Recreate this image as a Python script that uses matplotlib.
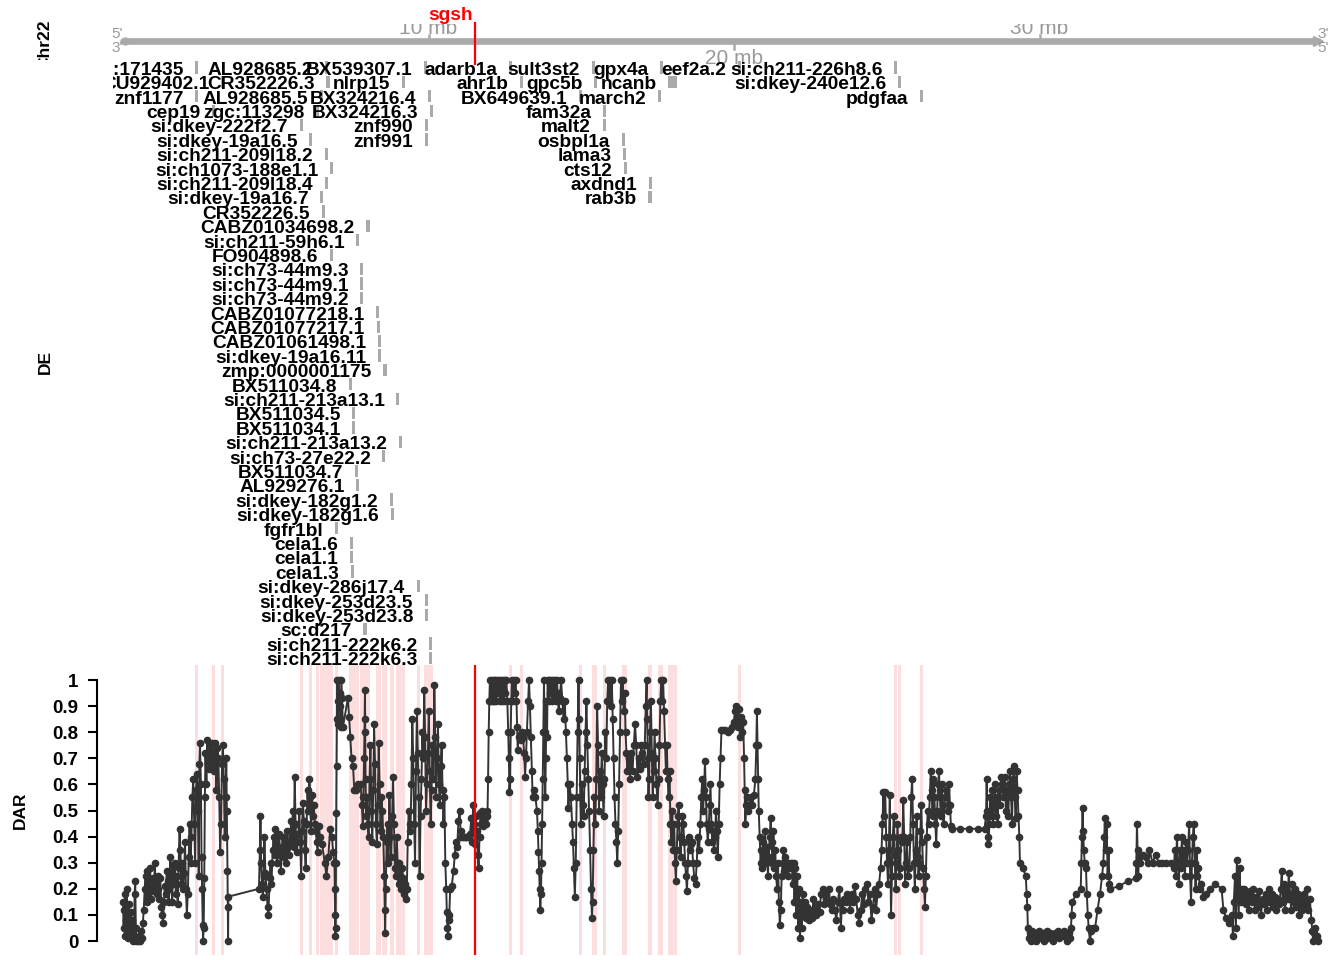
# DE genes and DAR scores along chr22 around sgsh

import numpy as np
import matplotlib
matplotlib.use('Agg')
import matplotlib.pyplot as plt
from matplotlib.transforms import Bbox

plt.rcParams['font.family'] = ['Liberation Sans', 'DejaVu Sans']

# Chromosome
chrom_name = 'Chr22'
chrom_len = 39.13
axis_ticks = [10, 20, 30]
axis_tick_labels = ['10 mb', '20 mb', '30 mb']

# Target gene
target_name = 'sgsh'
target_pos = 11.52

# DE genes (label row, start / end in Mb)
gene_names = ['zgc:171435', 'AL928685.2', 'BX539307.1', 'adarb1a', 'sult3st2', 'gpx4a', 'eef2a.2', 'si:ch211-226h8.6',
              'CU929402.1', 'CR352226.3', 'nlrp15', 'ahr1b', 'gpc5b', 'ncanb', 'si:dkey-240e12.6',
              'znf1177', 'AL928685.5', 'BX324216.4', 'BX649639.1', 'march2', 'pdgfaa',
              'cep19', 'zgc:113298', 'BX324216.3', 'fam32a',
              'si:dkey-222f2.7', 'znf990', 'malt2',
              'si:dkey-19a16.5', 'znf991', 'osbpl1a',
              'si:ch211-209l18.2', 'lama3',
              'si:ch1073-188e1.1', 'cts12',
              'si:ch211-209l18.4', 'axdnd1',
              'si:dkey-19a16.7', 'rab3b',
              'CR352226.5', 'CABZ01034698.2', 'si:ch211-59h6.1', 'FO904898.6', 'si:ch73-44m9.3',
              'si:ch73-44m9.1', 'si:ch73-44m9.2', 'CABZ01077218.1', 'CABZ01077217.1', 'CABZ01061498.1',
              'si:dkey-19a16.11', 'zmp:0000001175', 'BX511034.8', 'si:ch211-213a13.1', 'BX511034.5',
              'BX511034.1', 'si:ch211-213a13.2', 'si:ch73-27e22.2', 'BX511034.7', 'AL929276.1',
              'si:dkey-182g1.2', 'si:dkey-182g1.6', 'fgfr1bl', 'cela1.6', 'cela1.1', 'cela1.3',
              'si:dkey-286j17.4', 'si:dkey-253d23.5', 'si:dkey-253d23.8', 'sc:d217',
              'si:ch211-222k6.2', 'si:ch211-222k6.3']
gene_rows = [0, 0, 0, 0, 0, 0, 0, 0,
             1, 1, 1, 1, 1, 1, 1,
             2, 2, 2, 2, 2, 2,
             3, 3, 3, 3,
             4, 4, 4,
             5, 5, 5,
             6, 6,
             7, 7,
             8, 8,
             9, 9,
             10, 11, 12, 13, 14,
             15, 16, 17, 18, 19,
             20, 21, 22, 23, 24,
             25, 26, 27, 28, 29,
             30, 31, 32, 33, 34, 35,
             36, 37, 38, 39,
             40, 41]
gene_start = [2.37, 6.61, 9.85, 12.64, 15.34, 17.59, 20.13, 25.24,
              3.21, 6.66, 9.12, 13.00, 15.42, 17.84, 25.37,
              2.37, 6.45, 9.98, 14.92, 17.50, 26.09,
              2.91, 6.32, 10.05, 15.70,
              5.79, 9.87, 15.70,
              6.09, 9.87, 16.32,
              6.61, 16.37,
              6.77, 16.40,
              6.61, 17.22,
              6.46, 17.20,
              6.50, 7.95, 7.64, 6.78, 7.76,
              7.76, 7.76, 8.28, 8.30, 8.36,
              8.35, 8.51, 7.40, 8.95, 7.51,
              7.51, 9.03, 8.49, 7.58, 7.63,
              8.74, 8.77, 6.94, 7.43, 7.43, 7.45,
              9.61, 9.87, 9.89, 7.86,
              10.02, 10.02]
gene_end = [2.42, 6.66, 9.90, 12.69, 15.39, 17.64, 20.18, 25.29,
            3.26, 6.71, 9.17, 13.05, 15.47, 18.13, 25.42,
            2.42, 6.50, 10.03, 14.97, 17.55, 26.14,
            2.96, 6.37, 10.10, 15.75,
            5.84, 9.92, 15.75,
            6.14, 9.92, 16.37,
            6.68, 16.42,
            6.82, 16.45,
            6.66, 17.27,
            6.51, 17.25,
            6.55, 8.09, 7.69, 6.83, 7.81,
            7.81, 7.81, 8.33, 8.35, 8.41,
            8.40, 8.64, 7.45, 9.00, 7.56,
            7.56, 9.08, 8.54, 7.63, 7.68,
            8.79, 8.82, 6.99, 7.48, 7.48, 7.50,
            9.72, 9.92, 9.94, 7.99,
            10.07, 10.07]

# DAR scores (position in Mb, score)
dar_pos = [0.00, 0.02, 0.04, 0.06, 0.08, 0.10, 0.12, 0.14, 0.16, 0.18,
           0.20, 0.22, 0.25, 0.28, 0.30, 0.33, 0.36, 0.38, 0.40, 0.42,
           0.44, 0.47, 0.50, 0.53, 0.56, 0.59, 0.62, 0.65, 0.68, 0.71,
           0.74, 0.77, 0.80, 0.83, 0.86, 0.89, 0.92, 0.95, 0.98, 1.01,
           1.04, 1.07, 1.10, 1.13, 1.16, 1.19, 1.22, 1.25, 1.28, 1.31,
           1.34, 1.37, 1.40, 1.43, 1.46, 1.49, 1.52, 1.55, 1.58, 1.61,
           1.64, 1.67, 1.70, 1.73, 1.76, 1.79, 1.82, 1.85, 1.88, 1.91,
           1.94, 1.97, 2.00, 2.03, 2.06, 2.09, 2.12, 2.15, 2.18, 2.21,
           2.24, 2.27, 2.30, 2.33, 2.36, 2.39, 2.42, 2.45, 2.48, 2.50,
           2.52, 2.55, 2.57, 2.59, 2.61, 2.62, 2.64, 2.66, 2.68, 2.70,
           2.73, 2.76, 2.79, 2.82, 2.85, 2.88, 2.91, 2.94, 2.97, 3.00,
           3.03, 3.06, 3.09, 3.12, 3.15, 3.18, 3.21, 3.24, 3.27, 3.30,
           3.33, 3.36, 3.38, 3.40, 3.42, 3.43, 3.44, 3.45, 4.45, 4.48,
           4.50, 4.52, 4.55, 4.58, 4.60, 4.63, 4.66, 4.70, 4.73, 4.76,
           4.80, 4.83, 4.86, 4.90, 4.93, 4.96, 4.99, 5.02, 5.05, 5.08,
           5.11, 5.14, 5.17, 5.20, 5.23, 5.26, 5.29, 5.32, 5.35, 5.38,
           5.41, 5.44, 5.47, 5.50, 5.53, 5.56, 5.59, 5.62, 5.65, 5.68,
           5.71, 5.74, 5.77, 5.80, 5.83, 5.86, 5.89, 5.92, 5.95, 5.98,
           6.01, 6.04, 6.07, 6.10, 6.13, 6.16, 6.19, 6.22, 6.25, 6.28,
           6.31, 6.34, 6.37, 6.40, 6.45, 6.52, 6.60, 6.66, 6.72, 6.78,
           6.84, 6.88, 6.92, 6.93, 6.94, 6.95, 6.96, 6.97, 6.98, 6.99,
           7.00, 7.01, 7.03, 7.05, 7.07, 7.09, 7.11, 7.13, 7.15, 7.17,
           7.20, 7.36, 7.40, 7.44, 7.48, 7.53, 7.57, 7.62, 7.70, 7.78,
           7.82, 7.85, 7.87, 7.89, 7.91, 7.92, 7.93, 7.94, 7.96, 7.98,
           8.01, 8.04, 8.07, 8.10, 8.13, 8.16, 8.19, 8.22, 8.25, 8.28,
           8.31, 8.34, 8.37, 8.40, 8.43, 8.46, 8.49, 8.52, 8.55, 8.57,
           8.58, 8.60, 8.63, 8.66, 8.69, 8.72, 8.75, 8.78, 8.81, 8.84,
           8.87, 8.90, 8.93, 8.96, 8.99, 9.02, 9.05, 9.08, 9.11, 9.14,
           9.17, 9.20, 9.23, 9.26, 9.29, 9.32, 9.35, 9.38, 9.41, 9.44,
           9.47, 9.50, 9.53, 9.56, 9.59, 9.62, 9.65, 9.68, 9.71, 9.74,
           9.77, 9.80, 9.83, 9.86, 9.89, 9.92, 9.95, 9.98, 10.01, 10.04,
           10.07, 10.10, 10.13, 10.16, 10.19, 10.22, 10.25, 10.28, 10.31, 10.34,
           10.37, 10.40, 10.43, 10.46, 10.49, 10.52, 10.55, 10.58, 10.60, 10.62,
           10.64, 10.66, 10.68, 10.71, 10.76, 10.82, 10.86, 10.90, 10.94, 10.98,
           11.02, 11.05, 11.08, 11.12, 11.18, 11.24, 11.30, 11.36, 11.40, 11.43,
           11.46, 11.49, 11.52, 11.55, 11.58, 11.61, 11.64, 11.67, 11.70, 11.73,
           11.76, 11.79, 11.82, 11.85, 11.88, 11.91, 11.93, 11.95, 11.97, 11.99,
           12.01, 12.04, 12.07, 12.10, 12.13, 12.16, 12.19, 12.22, 12.25, 12.28,
           12.31, 12.34, 12.37, 12.40, 12.43, 12.46, 12.49, 12.52, 12.55, 12.58,
           12.61, 12.63, 12.65, 12.67, 12.69, 12.71, 12.73, 12.76, 12.79, 12.82,
           12.85, 12.88, 12.90, 12.92, 12.95, 12.99, 13.03, 13.07, 13.10, 13.13,
           13.16, 13.19, 13.22, 13.26, 13.29, 13.32, 13.35, 13.38, 13.41, 13.45,
           13.50, 13.55, 13.58, 13.60, 13.62, 13.64, 13.66, 13.68, 13.70, 13.72,
           13.74, 13.76, 13.78, 13.80, 13.82, 13.84, 13.86, 13.88, 13.90, 13.93,
           13.96, 13.99, 14.02, 14.05, 14.08, 14.11, 14.14, 14.17, 14.20, 14.23,
           14.26, 14.30, 14.34, 14.38, 14.42, 14.46, 14.50, 14.53, 14.56, 14.58,
           14.62, 14.66, 14.70, 14.73, 14.76, 14.79, 14.82, 14.85, 14.88, 14.91,
           14.93, 14.95, 14.97, 14.99, 15.02, 15.05, 15.08, 15.11, 15.14, 15.17,
           15.20, 15.23, 15.26, 15.29, 15.32, 15.35, 15.37, 15.40, 15.43, 15.46,
           15.49, 15.52, 15.55, 15.58, 15.61, 15.64, 15.67, 15.70, 15.73, 15.76,
           15.79, 15.82, 15.85, 15.88, 15.91, 15.94, 15.97, 16.00, 16.03, 16.06,
           16.09, 16.12, 16.15, 16.18, 16.21, 16.24, 16.27, 16.30, 16.33, 16.36,
           16.39, 16.42, 16.45, 16.48, 16.51, 16.55, 16.60, 16.64, 16.68, 16.72,
           16.76, 16.80, 16.84, 16.88, 16.92, 16.96, 17.00, 17.04, 17.08, 17.11,
           17.14, 17.16, 17.18, 17.20, 17.22, 17.25, 17.28, 17.31, 17.34, 17.37,
           17.40, 17.43, 17.46, 17.50, 17.53, 17.56, 17.59, 17.62, 17.65, 17.68,
           17.71, 17.74, 17.77, 17.80, 17.83, 17.86, 17.89, 17.92, 17.95, 17.98,
           18.01, 18.04, 18.07, 18.10, 18.13, 18.16, 18.19, 18.22, 18.25, 18.28,
           18.31, 18.34, 18.37, 18.40, 18.43, 18.46, 18.49, 18.52, 18.55, 18.58,
           18.62, 18.66, 18.70, 18.74, 18.78, 18.82, 18.86, 18.90, 18.93, 18.96,
           18.99, 19.02, 19.05, 19.08, 19.11, 19.14, 19.17, 19.20, 19.23, 19.26,
           19.29, 19.32, 19.35, 19.38, 19.41, 19.44, 19.47, 19.50, 19.53, 19.56,
           19.59, 19.65, 19.72, 19.80, 19.88, 19.95, 20.00, 20.03, 20.06, 20.09,
           20.12, 20.15, 20.18, 20.21, 20.24, 20.27, 20.30, 20.33, 20.35, 20.37,
           20.40, 20.43, 20.46, 20.50, 20.55, 20.60, 20.65, 20.70, 20.73, 20.75,
           20.77, 20.79, 20.81, 20.84, 20.87, 20.90, 20.93, 20.96, 20.99, 21.02,
           21.05, 21.08, 21.11, 21.14, 21.17, 21.20, 21.23, 21.26, 21.29, 21.32,
           21.35, 21.38, 21.41, 21.44, 21.47, 21.50, 21.53, 21.56, 21.59, 21.62,
           21.65, 21.68, 21.71, 21.74, 21.77, 21.80, 21.83, 21.86, 21.89, 21.92,
           21.95, 21.98, 22.01, 22.04, 22.07, 22.10, 22.13, 22.16, 22.19, 22.22,
           22.25, 22.28, 22.31, 22.35, 22.40, 22.45, 22.50, 22.55, 22.60, 22.65,
           22.70, 22.75, 22.80, 22.85, 22.90, 22.95, 23.00, 23.05, 23.10, 23.15,
           23.20, 23.25, 23.30, 23.35, 23.40, 23.45, 23.50, 23.53, 23.56, 23.60,
           23.65, 23.70, 23.75, 23.80, 23.85, 23.90, 23.95, 24.00, 24.05, 24.10,
           24.15, 24.20, 24.25, 24.30, 24.35, 24.40, 24.45, 24.50, 24.55, 24.60,
           24.65, 24.70, 24.75, 24.80, 24.83, 24.86, 24.89, 24.92, 24.95, 24.98,
           25.01, 25.04, 25.07, 25.10, 25.12, 25.14, 25.17, 25.20, 25.23, 25.26,
           25.29, 25.32, 25.35, 25.38, 25.41, 25.44, 25.47, 25.51, 25.54, 25.57,
           25.60, 25.63, 25.66, 25.70, 25.74, 25.77, 25.80, 25.83, 25.86, 25.89,
           25.92, 25.95, 25.98, 26.01, 26.04, 26.07, 26.10, 26.13, 26.16, 26.19,
           26.22, 26.25, 26.28, 26.31, 26.34, 26.37, 26.41, 26.44, 26.47, 26.50,
           26.53, 26.56, 26.59, 26.62, 26.65, 26.68, 26.71, 26.74, 26.77, 26.80,
           26.83, 26.86, 26.90, 26.95, 27.00, 27.04, 27.07, 27.10, 27.15, 27.40,
           27.70, 28.00, 28.20, 28.25, 28.27, 28.29, 28.31, 28.33, 28.36, 28.39,
           28.42, 28.45, 28.48, 28.51, 28.54, 28.57, 28.60, 28.63, 28.66, 28.70,
           28.74, 28.78, 28.82, 28.86, 28.90, 28.94, 28.98, 29.01, 29.04, 29.07,
           29.10, 29.13, 29.16, 29.19, 29.22, 29.25, 29.28, 29.31, 29.34, 29.36,
           29.45, 29.55, 29.58, 29.60, 29.62, 29.64, 29.68, 29.72, 29.76, 29.80,
           29.85, 29.90, 29.95, 30.00, 30.05, 30.10, 30.15, 30.20, 30.25, 30.30,
           30.35, 30.40, 30.45, 30.50, 30.55, 30.60, 30.65, 30.70, 30.75, 30.80,
           30.85, 30.90, 30.95, 31.00, 31.03, 31.05, 31.07, 31.20, 31.35, 31.37,
           31.39, 31.41, 31.43, 31.45, 31.48, 31.52, 31.55, 31.58, 31.61, 31.65,
           31.70, 31.76, 31.82, 31.90, 31.98, 32.05, 32.09, 32.12, 32.14, 32.17,
           32.20, 32.23, 32.26, 32.29, 32.31, 32.60, 32.90, 33.15, 33.17, 33.19,
           33.21, 33.23, 33.26, 33.30, 33.40, 33.50, 33.55, 33.60, 33.70, 33.80,
           33.90, 34.00, 34.15, 34.30, 34.40, 34.43, 34.46, 34.50, 34.53, 34.56,
           34.60, 34.63, 34.66, 34.70, 34.73, 34.76, 34.80, 34.83, 34.86, 34.90,
           34.93, 34.96, 34.99, 35.02, 35.05, 35.08, 35.11, 35.14, 35.17, 35.20,
           35.25, 35.30, 35.36, 35.45, 35.58, 35.75, 35.96, 36.02, 36.10, 36.20,
           36.30, 36.33, 36.36, 36.40, 36.43, 36.46, 36.49, 36.52, 36.55, 36.58,
           36.62, 36.66, 36.70, 36.75, 36.80, 36.85, 36.90, 36.95, 37.00, 37.05,
           37.10, 37.15, 37.20, 37.25, 37.30, 37.35, 37.40, 37.45, 37.50, 37.55,
           37.60, 37.65, 37.70, 37.75, 37.80, 37.85, 37.90, 37.93, 37.96, 38.00,
           38.04, 38.08, 38.12, 38.16, 38.20, 38.24, 38.28, 38.32, 38.36, 38.40,
           38.45, 38.50, 38.55, 38.60, 38.65, 38.70, 38.75, 38.80, 38.85, 38.90,
           38.93, 38.96, 38.99, 39.02, 39.05, 39.08, 39.10]
dar_val = [.15, .05, .12, .02, .18, .08, .20, .04, .10, .01,
           .14, .06, .11, .02, .08, .00, .01, .18, .23, .05,
           .00, .01, .00, .02, .00, .04, .01, .07, .12, .20,
           .25, .15, .27, .18, .22, .28, .16, .20, .24, .19,
           .30, .22, .18, .25, .20, .16, .24, .13, .10, .07,
           .15, .21, .18, .27, .23, .15, .20, .32, .25, .15,
           .29, .22, .30, .18, .25, .14, .28, .43, .35, .22,
           .30, .20, .26, .38, .20, .10, .18, .32, .45, .30,
           .40, .55, .62, .45, .30, .58, .64, .50, .25, .68,
           .76, .60, .32, .20, .06, .00, .05, .24, .55, .72,
           .60, .77, .70, .66, .75, .68, .76, .72, .65, .76,
           .70, .58, .74, .70, .55, .34, .45, .68, .75, .62,
           .40, .55, .70, .50, .27, .13, .00, .17, .20, .35,
           .48, .30, .22, .17, .25, .40, .26, .20, .13, .10,
           .24, .30, .22, .35, .40, .33, .43, .38, .30, .36,
           .41, .33, .27, .36, .40, .32, .38, .35, .30, .42,
           .36, .33, .38, .46, .40, .50, .36, .63, .45, .34,
           .38, .41, .50, .38, .25, .42, .53, .46, .35, .28,
           .45, .58, .50, .62, .55, .42, .56, .48, .52, .45,
           .42, .38, .34, .44, .40, .37, .30, .25, .32, .43,
           .40, .34, .30, .20, .10, .02, .05, .30, .49, .67,
           .85, 1.00, .92, .83, 1.00, .90, .95, .82, 1.00, .93,
           .82, .93, .86, .78, .70, .67, .58, .58, .60, .60,
           .52, .44, .55, .70, .85, .96, .80, .62, .48, .55,
           .45, .40, .62, .75, .50, .38, .58, .83, .68, .45,
           .37, .52, .76, .60, .42, .55, .50, .40, .25, .12,
           .03, .20, .38, .45, .30, .56, .40, .32, .48, .63,
           .45, .28, .25, .40, .30, .22, .30, .25, .20, .28,
           .24, .18, .22, .16, .20, .38, .50, .45, .42, .60,
           .85, .70, .45, .30, .65, .88, .72, .55, .25, .48,
           .62, .80, .70, .96, .78, .50, .60, .72, .88, .65,
           .45, .58, .75, .62, .98, .78, .55, .70, .83, .60,
           .52, .67, .75, .58, .45, .55, .30, .20, .11, .05,
           .02, .08, .10, .20, .21, .27, .33, .38, .36, .46,
           .50, .42, .40, .40, .40, .40, .40, .41, .47, .38,
           .52, .45, .37, .48, .42, .33, .28, .40, .49, .45,
           .50, .44, .48, .47, .45, .50, .48, .62, .80, .92,
           1.00, .92, 1.00, .92, 1.00, .92, 1.00, .92, 1.00, .95,
           1.00, .92, 1.00, .92, 1.00, .92, 1.00, .95, 1.00, .92,
           .80, .70, .57, .62, .80, .92, 1.00, .92, 1.00, .95,
           1.00, .92, .82, .73, .78, .79, .77, .80, .78, .72,
           .63, .70, .80, .92, 1.00, .90, .78, .65, .55, .58,
           .55, .50, .42, .34, .27, .20, .12, .18, .30, .45,
           .62, .80, 1.00, .80, .55, .70, .92, .78, 1.00, .92,
           1.00, .95, 1.00, .92, 1.00, .93, 1.00, .92, 1.00, .95,
           .88, .93, 1.00, .92, .85, .92, .80, .70, .60, .51,
           .60, .55, .45, .38, .28, .17, .30, .55, .80, 1.00,
           .85, .70, .55, .45, .60, .52, .48, .65, .80, .92,
           .75, .62, .50, .35, .20, .09, .15, .35, .55, .45,
           .62, .90, .75, .50, .65, .55, .72, .60, .48, .62,
           .80, .70, .92, 1.00, .92, 1.00, .90, 1.00, .85, .70,
           .55, .45, .38, .30, .42, .60, .80, 1.00, .92, 1.00,
           .88, .95, .80, .72, .65, .70, .62, .72, .65, .75,
           .83, .75, .63, .70, .66, .75, .72, .68, .75, .90,
           1.00, .85, .70, .55, .62, .80, .92, .72, .55, .65,
           .80, .70, .60, .52, .62, .75, .92, 1.00, .92, 1.00,
           .88, .75, .65, .75, .62, .55, .65, .45, .38, .50,
           .35, .45, .30, .23, .35, .48, .52, .40, .32, .40,
           .48, .45, .38, .30, .25, .19, .30, .40, .35, .37,
           .38, .30, .24, .22, .30, .40, .35, .45, .55, .62,
           .50, .58, .69, .55, .45, .38, .43, .52, .60, .45,
           .38, .42, .35, .40, .50, .42, .32, .45, .60, .70,
           .81, .81, .81, .80, .81, .82, .84, .88, .90, .86,
           .82, .89, .84, .78, .86, .80, .84, .70, .58, .45,
           .52, .55, .50, .52, .55, .52, .56, .62, .75, .88,
           .75, .62, .50, .40, .30, .35, .28, .38, .32, .42,
           .30, .36, .25, .32, .40, .47, .38, .30, .42, .28,
           .35, .25, .20, .30, .15, .06, .12, .25, .30, .35,
           .27, .32, .28, .30, .25, .28, .30, .29, .30, .22,
           .30, .15, .28, .10, .25, .05, .20, .01, .15, .05,
           .18, .10, .15, .09, .13, .08, .12, .09, .16, .12,
           .10, .14, .11, .18, .20, .14, .18, .15, .20, .14,
           .12, .16, .12, .08, .15, .20, .05, .15, .12, .16,
           .15, .18, .17, .12, .18, .15, .21, .16, .10, .07,
           .12, .18, .14, .20, .22, .15, .18, .08, .13, .20,
           .12, .18, .22, .28, .35, .45, .57, .48, .57, .40,
           .30, .22, .35, .56, .30, .10, .25, .40, .48, .33,
           .20, .30, .45, .35, .25, .28, .40, .38, .54, .40,
           .22, .30, .38, .25, .28, .40, .55, .62, .45, .30,
           .20, .35, .48, .32, .25, .30, .42, .52, .38, .28,
           .20, .13, .25, .40, .50, .45, .55, .65, .58, .48,
           .62, .55, .45, .37, .50, .60, .65, .55, .48, .60,
           .52, .45, .55, .58, .50, .60, .52, .44, .43, .43,
           .43, .43, .43, .48, .62, .50, .40, .37, .45, .55,
           .48, .58, .45, .52, .60, .48, .55, .45, .58, .52,
           .63, .60, .55, .63, .50, .58, .48, .60, .65, .55,
           .45, .62, .67, .55, .47, .65, .58, .48, .40, .30,
           .28, .25, .18, .13, .05, .01, .03, .00, .04, .01,
           .03, .00, .02, .04, .01, .03, .00, .02, .04, .01,
           .03, .02, .00, .03, .02, .04, .01, .03, .02, .04,
           .02, .00, .03, .01, .05, .10, .15, .18, .20, .30,
           .40, .51, .42, .35, .30, .28, .18, .10, .05, .00,
           .04, .05, .05, .12, .18, .25, .30, .40, .47, .35,
           .45, .25, .35, .22, .20, .21, .23, .24, .30, .45,
           .35, .25, .32, .30, .33, .32, .30, .35, .30, .33,
           .30, .30, .30, .30, .28, .35, .25, .40, .30, .22,
           .35, .28, .40, .30, .35, .25, .38, .30, .35, .45,
           .25, .15, .30, .40, .45, .30, .20, .35, .25, .28,
           .20, .22, .17, .18, .20, .22, .20, .12, .09, .07,
           .10, .02, .15, .25, .05, .31, .20, .10, .28, .15,
           .20, .16, .20, .14, .18, .12, .19, .15, .20, .12,
           .17, .13, .19, .10, .16, .14, .18, .12, .20, .15,
           .18, .13, .17, .12, .16, .14, .20, .27, .15, .22,
           .12, .20, .16, .26, .18, .12, .22, .15, .20, .13,
           .18, .10, .16, .12, .18, .14, .20, .12, .16, .08,
           .04, .00, .03, .05, .01, .02, .00]
dar_ticks = [0, 0.1, 0.2, 0.3, 0.4, 0.5, 0.6, 0.7, 0.8, 0.9, 1]
dar_tick_labels = ['0', '0.1', '0.2', '0.3', '0.4', '0.5', '0.6', '0.7', '0.8', '0.9', '1']

# Layout (pixels of a 1344 x 960 canvas)
W, H = 1344, 960
grey = '#AAAAAA'
grey_text = '#999999'
pink = '#FDDEDE'

def box(left, top, right, bottom):
    return [left / W, 1 - bottom / H, (right - left) / W, (bottom - top) / H]

def mb_lim(left, right):
    # 0 Mb sits at x = 123 px, 30.55 px per Mb
    return ((left - 123) / 30.55, (right - 123) / 30.55)

fig = plt.figure(figsize = (13.44, 9.6), dpi = 100)

# Chromosome ideogram
ax_ch = fig.add_axes(box(113, 24, 1330, 72))
ax_ch.set_xlim(mb_lim(113, 1330))
ax_ch.set_ylim(72, 24)
ax_ch.axis('off')
ax_ch.plot([0, chrom_len], [41.5, 41.5], color = grey, lw = 4.8, solid_capstyle = 'round', clip_on = False)
ax_ch.plot([0.06], [41.5], marker = 'o', ms = 5, color = grey, clip_on = False)
ax_ch.plot([chrom_len], [41.5], marker = '>', ms = 7, color = grey, clip_on = False)
for i, (t, lab) in enumerate(zip(axis_ticks, axis_tick_labels)):
    if i % 2 == 0:
        ax_ch.plot([t, t], [41.5, 35], color = grey, lw = 1.8)
        ax_ch.text(t, 34.5, lab, ha = 'center', va = 'baseline', fontsize = 15, color = grey_text,
                   clip_on = True)
    else:
        ax_ch.plot([t, t], [41.5, 49], color = grey, lw = 1.8)
        ax_ch.text(t, 64, lab, ha = 'center', va = 'baseline', fontsize = 15, color = grey_text)
ax_ch.text(0.0, 34, "5'", ha = 'right', va = 'center', fontsize = 11, color = grey_text)
ax_ch.text(0.0, 48, "3'", ha = 'right', va = 'center', fontsize = 11, color = grey_text)
ax_ch.text(chrom_len - 0.02, 34, "3'", ha = 'left', va = 'center', fontsize = 11, color = grey_text)
ax_ch.text(chrom_len - 0.02, 48, "5'", ha = 'left', va = 'center', fontsize = 11, color = grey_text)
ax_ch.text(target_pos - 0.07, 20.5, target_name, ha = 'right', va = 'baseline', fontsize = 13.8,
           fontweight = 'bold', color = 'red')
ax_ch.plot([target_pos, target_pos], [23, 64], color = 'red', lw = 1.6, clip_on = False)

# DE gene labels
ax_de = fig.add_axes(box(113, 55, 1330, 665))
ax_de.set_xlim(mb_lim(113, 1330))
ax_de.set_ylim(41.49, -0.868)
ax_de.axis('off')
ax_de.patch.set_visible(False)
widths = np.maximum(np.array(gene_end) - np.array(gene_start), 0.1)
ax_de.barh(gene_rows, widths, left = gene_start, height = 0.85, color = grey, lw = 0)
for name, row, start in zip(gene_names, gene_rows, gene_start):
    ax_de.text(start - 0.38, row + 0.5, name, ha = 'right', va = 'baseline',
               fontsize = 13.8, fontweight = 'bold', color = 'black', clip_on = True)

# DAR track
ax_dar = fig.add_axes(box(97, 665, 1330, 955))
ax_dar.set_xlim(mb_lim(97, 1330))
ax_dar.set_ylim(-0.0536, 1.0575)
for start, width in zip(gene_start, widths):
    ax_dar.axvspan(start, start + width, color = pink, lw = 0, zorder = 0)
ax_dar.plot(dar_pos, dar_val, color = '#333333', lw = 1.4, marker = 'o', ms = 4.5, zorder = 3)
ax_dar.axvline(target_pos, color = 'red', lw = 1.6, zorder = 4)
for side in ['top', 'right', 'bottom']:
    ax_dar.spines[side].set_visible(False)
ax_dar.spines['left'].set_bounds(0, 1)
ax_dar.spines['left'].set_linewidth(1.5)
ax_dar.set_xticks([])
ax_dar.set_yticks(dar_ticks)
ax_dar.set_yticklabels(dar_tick_labels)
ax_dar.tick_params(axis = 'y', length = 6.5, width = 1.5, pad = 7, labelsize = 13.5)
for lab in ax_dar.get_yticklabels():
    lab.set_fontweight('bold')
ax_dar.patch.set_visible(False)

# Track labels
chr_txt = fig.text(45 / W, 1 - 44 / H, chrom_name, rotation = 90, ha = 'center', va = 'center',
                   fontsize = 12.5, fontweight = 'bold')
chr_txt.set_clip_box(Bbox.from_extents(0, H - 60, W, H))
fig.text(45 / W, 1 - 362 / H, 'DE', rotation = 90, ha = 'center', va = 'center',
         fontsize = 12.5, fontweight = 'bold')
fig.text(20 / W, 1 - 810 / H, 'DAR', rotation = 90, ha = 'center', va = 'center',
         fontsize = 12.5, fontweight = 'bold')

fig.savefig('out.png', dpi = 100)
